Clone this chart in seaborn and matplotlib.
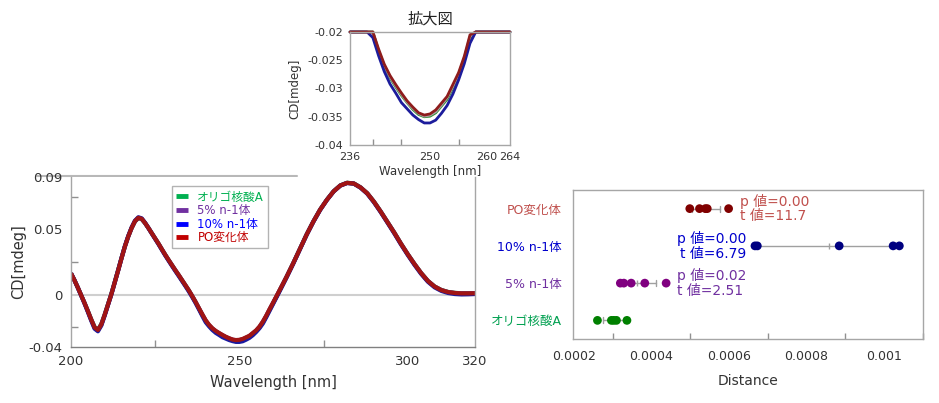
import numpy as np
import pandas as pd
import matplotlib
matplotlib.use("Agg")
import matplotlib.pyplot as plt
from matplotlib.lines import Line2D
from matplotlib.ticker import FixedLocator, FixedFormatter
import seaborn as sns

# ---------------- data ----------------
wavelength = list(range(200, 264)) + list(range(264, 321, 2))

cd_oligo = [
    0.0163, 0.0112, 0.0056, -0.0003, -0.0062, -0.0124, -0.0188, -0.0247, -0.0267, -0.0225,
    -0.0152, -0.0072, 0.0008, 0.0098, 0.0188, 0.0280, 0.0369, 0.0445, 0.0509, 0.0560,
    0.0586, 0.0578, 0.0547, 0.0510, 0.0470, 0.0430, 0.0390, 0.0347, 0.0305, 0.0265,
    0.0226, 0.0187, 0.0149, 0.0110, 0.0071, 0.0032, -0.0011, -0.0057, -0.0105, -0.0153,
    -0.0200, -0.0234, -0.0261, -0.0281, -0.0297, -0.0312, -0.0325, -0.0337, -0.0346, -0.0350,
    -0.0349, -0.0343, -0.0331, -0.0319, -0.0299, -0.0278, -0.0249, -0.0210, -0.0165, -0.0115,
    -0.0066, -0.0016, 0.0034, 0.0084,
    0.0135, 0.0241, 0.0351, 0.0461, 0.0561, 0.0651, 0.0726, 0.0791, 0.0836, 0.0856,
    0.0851, 0.0821, 0.0776, 0.0711, 0.0636, 0.0556, 0.0476, 0.0391, 0.0311, 0.0236,
    0.0166, 0.0106, 0.0063, 0.0036, 0.0021, 0.0014, 0.0011, 0.0011, 0.0012]

cd_n1_5 = [
    0.0163, 0.0112, 0.0056, -0.0004, -0.0063, -0.0126, -0.0191, -0.0251, -0.0271, -0.0229,
    -0.0156, -0.0075, 0.0005, 0.0095, 0.0185, 0.0278, 0.0368, 0.0445, 0.0510, 0.0562,
    0.0588, 0.0580, 0.0548, 0.0510, 0.0469, 0.0429, 0.0389, 0.0346, 0.0304, 0.0264,
    0.0225, 0.0186, 0.0149, 0.0110, 0.0071, 0.0032, -0.0011, -0.0056, -0.0104, -0.0152,
    -0.0199, -0.0233, -0.0259, -0.0279, -0.0295, -0.0310, -0.0324, -0.0335, -0.0344, -0.0349,
    -0.0347, -0.0341, -0.0329, -0.0316, -0.0296, -0.0275, -0.0246, -0.0208, -0.0162, -0.0112,
    -0.0064, -0.0015, 0.0035, 0.0085,
    0.0135, 0.0240, 0.0350, 0.0460, 0.0560, 0.0650, 0.0725, 0.0790, 0.0835, 0.0855,
    0.0850, 0.0820, 0.0775, 0.0710, 0.0635, 0.0555, 0.0475, 0.0390, 0.0310, 0.0235,
    0.0165, 0.0105, 0.0062, 0.0035, 0.0020, 0.0013, 0.0010, 0.0010, 0.0011]

cd_n1_10 = [
    0.0163, 0.0112, 0.0055, -0.0005, -0.0066, -0.0131, -0.0198, -0.0260, -0.0280, -0.0236,
    -0.0160, -0.0078, 0.0003, 0.0094, 0.0186, 0.0280, 0.0370, 0.0448, 0.0514, 0.0566,
    0.0592, 0.0584, 0.0550, 0.0510, 0.0468, 0.0427, 0.0386, 0.0343, 0.0300, 0.0260,
    0.0220, 0.0181, 0.0143, 0.0104, 0.0065, 0.0025, -0.0018, -0.0063, -0.0112, -0.0162,
    -0.0210, -0.0242, -0.0270, -0.0292, -0.0308, -0.0325, -0.0336, -0.0347, -0.0355, -0.0361,
    -0.0361, -0.0356, -0.0344, -0.0330, -0.0310, -0.0285, -0.0256, -0.0220, -0.0172, -0.0122,
    -0.0072, -0.0022, 0.0028, 0.0079,
    0.0130, 0.0236, 0.0347, 0.0458, 0.0558, 0.0648, 0.0724, 0.0789, 0.0834, 0.0854,
    0.0849, 0.0818, 0.0772, 0.0706, 0.0631, 0.0551, 0.0470, 0.0385, 0.0305, 0.0229,
    0.0159, 0.0099, 0.0056, 0.0029, 0.0013, 0.0005, 0.0002, 0.0003, 0.0005]

cd_po = [
    0.0163, 0.0112, 0.0056, -0.0003, -0.0062, -0.0125, -0.0190, -0.0250, -0.0270, -0.0228,
    -0.0155, -0.0075, 0.0005, 0.0095, 0.0185, 0.0278, 0.0368, 0.0445, 0.0510, 0.0562,
    0.0588, 0.0580, 0.0548, 0.0510, 0.0470, 0.0430, 0.0390, 0.0347, 0.0305, 0.0265,
    0.0226, 0.0187, 0.0150, 0.0111, 0.0072, 0.0033, -0.0010, -0.0055, -0.0103, -0.0150,
    -0.0195, -0.0230, -0.0257, -0.0277, -0.0293, -0.0308, -0.0322, -0.0333, -0.0343, -0.0347,
    -0.0345, -0.0338, -0.0326, -0.0314, -0.0293, -0.0272, -0.0243, -0.0205, -0.0160, -0.0110,
    -0.0062, -0.0013, 0.0036, 0.0085,
    0.0135, 0.0240, 0.0350, 0.0460, 0.0560, 0.0650, 0.0725, 0.0790, 0.0835, 0.0855,
    0.0850, 0.0820, 0.0775, 0.0710, 0.0635, 0.0555, 0.0475, 0.0390, 0.0310, 0.0235,
    0.0165, 0.0105, 0.0062, 0.0035, 0.0020, 0.0013, 0.0010, 0.0010, 0.0011]

samples = ["オリゴ核酸A", "5% n-1体", "10% n-1体", "PO変化体"]

dist_oligo = [0.000261, 0.000297, 0.000303, 0.000310, 0.000337]
dist_n1_5 = [0.000320, 0.000329, 0.000348, 0.000383, 0.000438]
dist_n1_10 = [0.000667, 0.000673, 0.000884, 0.001023, 0.001039]
dist_po = [0.000499, 0.000524, 0.000539, 0.000544, 0.000599]

stats = {"PO変化体": ("0.00", "11.7"), "10% n-1体": ("0.00", "6.79"), "5% n-1体": ("0.02", "2.51")}

dist_order = ["PO変化体", "10% n-1体", "5% n-1体", "オリゴ核酸A"]

main_xticks = [200, 250, 300, 320]
main_yticks = [0.09, 0.05, 0, -0.04]
inset_xticks = [236, 250, 260, 264]
inset_yticks = [-0.02, -0.025, -0.03, -0.035, -0.04]
dist_xticks = [0.0002, 0.0004, 0.0006, 0.0008, 0.001]

# ---------------- style ----------------
line_colors = ["#1F8A2E", "#7030A0", "#1A1AA0", "#A01414"]
legend_colors = ["#00B050", "#7030A0", "#0000FF", "#C00000"]
inset_colors = ["#2E8B2E", "#A9A3A9", "#1C1C9C", "#8E1C1C"]
text_colors = {"PO変化体": "#C0504D", "10% n-1体": "#0000CC",
               "5% n-1体": "#7030A0", "オリゴ核酸A": "#00A050"}
dot_colors = {"PO変化体": "#800000", "10% n-1体": "#000080",
              "5% n-1体": "#800080", "オリゴ核酸A": "#008000"}
spine_c = "#A6A6A6"
txt_c = "#333333"

sns.set_theme(style="white")
plt.rcParams["font.family"] = ["DejaVu Sans", "Noto Sans CJK JP"]
plt.rcParams["axes.unicode_minus"] = False

W, H = 939, 403
fig = plt.figure(figsize=(W / 100, H / 100), dpi=100)


def box(l, t, r, b):
    return [l / W, 1 - b / H, (r - l) / W, (b - t) / H]


df = pd.DataFrame({
    "wl": wavelength * 4,
    "cd": cd_oligo + cd_n1_5 + cd_n1_10 + cd_po,
    "sample": sum([[s] * len(wavelength) for s in samples], []),
})

# ---------------- main spectrum ----------------
ax = fig.add_axes(box(71, 177, 475, 347))
ax.axhline(0, color="#CFCFCF", lw=1.5, zorder=0)
sns.lineplot(data=df, x="wl", y="cd", hue="sample", hue_order=samples,
             palette=line_colors, estimator=None, sort=False, lw=3,
             solid_joinstyle="round", solid_capstyle="butt",
             legend=False, ax=ax)
ax.set_xlim(200, 320)
ax.set_ylim(-0.04, 0.09)
ax.xaxis.set_major_locator(FixedLocator(main_xticks))
ax.xaxis.set_major_formatter(FixedFormatter([str(v) for v in main_xticks]))
ax.yaxis.set_major_locator(FixedLocator(main_yticks))
ax.yaxis.set_major_formatter(FixedFormatter(["0.09", "0.05", "0", "-0.04"]))
ax.xaxis.set_minor_locator(FixedLocator([225, 250, 275, 300]))
ax.yaxis.set_minor_locator(FixedLocator([0.075, 0.05, 0.025, 0, -0.025]))
ax.tick_params(which="major", length=0, labelsize=9.5, colors=txt_c, pad=6)
ax.tick_params(which="minor", direction="in", length=5, color="#909090",
               bottom=True, left=True)
ax.set_xlabel("Wavelength [nm]", fontsize=10.5, color=txt_c, labelpad=5)
ax.set_ylabel("CD[mdeg]", fontsize=10.5, color=txt_c, labelpad=2)
for s in ["left", "right", "bottom"]:
    ax.spines[s].set_color(spine_c)
    ax.spines[s].set_linewidth(1)
ax.spines["bottom"].set_color("#808080")
ax.spines["top"].set_visible(False)
fig.add_artist(Line2D([37 / W, 297 / W], [1 - 176 / H] * 2,
                      color="#B8B8B8", lw=1.5, zorder=0))

handles = [Line2D([], [], color=c, lw=3.5, solid_capstyle="butt") for c in legend_colors]
leg = ax.legend(handles, samples, loc="upper left", bbox_to_anchor=(0.25, 0.945),
                borderaxespad=0, fontsize=8.5, handlelength=1.0,
                handletextpad=0.8, labelspacing=0.05, borderpad=0.35,
                frameon=True, fancybox=False, edgecolor="#A0A0A0")
leg.get_frame().set_linewidth(1)
for t, c in zip(leg.get_texts(), legend_colors):
    t.set_color(c)

# ---------------- inset ----------------
axi = fig.add_axes(box(350, 32, 510, 145))
df_in = df[(df["wl"] >= 236) & (df["wl"] <= 264)].copy()
df_in["cd"] = df_in["cd"].clip(upper=-0.02)
sns.lineplot(data=df_in, x="wl", y="cd", hue="sample", hue_order=samples,
             palette=inset_colors, estimator=None, sort=False, lw=2,
             solid_joinstyle="round", legend=False, ax=axi)
for ln in axi.lines:
    ln.set_clip_on(False)
axi.set_xlim(236, 264)
axi.set_ylim(-0.04, -0.02)
axi.xaxis.set_major_locator(FixedLocator(inset_xticks))
axi.xaxis.set_major_formatter(FixedFormatter([str(v) for v in inset_xticks]))
axi.yaxis.set_major_locator(FixedLocator(inset_yticks))
axi.yaxis.set_major_formatter(FixedFormatter(["-0.02", "-0.025", "-0.03", "-0.035", "-0.04"]))
axi.xaxis.set_minor_locator(FixedLocator([240, 245, 250, 255, 260]))
axi.yaxis.set_minor_locator(FixedLocator([-0.025, -0.03, -0.035]))
axi.tick_params(which="major", length=0, labelsize=8, colors=txt_c, pad=5)
axi.tick_params(which="minor", direction="in", length=4, color="#909090",
                bottom=True, left=True)
axi.set_xlabel("Wavelength [nm]", fontsize=8.5, color=txt_c, labelpad=2)
axi.set_ylabel("CD[mdeg]", fontsize=8.5, color=txt_c, labelpad=4)
axi.set_title("拡大図", fontsize=11, color="#222222", pad=6)
for s in axi.spines.values():
    s.set_color(spine_c)
    s.set_linewidth(1)

# ---------------- distance dot plot ----------------
axr = fig.add_axes(box(573, 190, 923, 339))
dfp = pd.DataFrame({
    "group": ["オリゴ核酸A"] * len(dist_oligo) + ["5% n-1体"] * len(dist_n1_5)
    + ["10% n-1体"] * len(dist_n1_10) + ["PO変化体"] * len(dist_po),
    "dist": dist_oligo + dist_n1_5 + dist_n1_10 + dist_po,
})
sns.pointplot(data=dfp, x="dist", y="group", order=dist_order, errorbar="sd",
              capsize=0.16, color="#A0A0A0", markers="|", linestyles="none",
              err_kws={"linewidth": 1}, markersize=5, markeredgewidth=1,
              ax=axr)
sns.stripplot(data=dfp, x="dist", y="group", order=dist_order, hue="group",
              hue_order=dist_order, palette=dot_colors, jitter=False, size=6.3,
              linewidth=0, legend=False, zorder=3, ax=axr)
axr.set_xlim(0.000198, 0.0011)
axr.set_ylim(3.5, -0.5)
axr.xaxis.set_major_locator(FixedLocator(dist_xticks))
axr.xaxis.set_major_formatter(FixedFormatter(["0.0002", "0.0004", "0.0006", "0.0008", "0.001"]))
axr.xaxis.set_minor_locator(FixedLocator(np.arange(0.0002, 0.00111, 0.0001)))
axr.tick_params(axis="x", which="major", length=0, labelsize=9, colors=txt_c, pad=8)
axr.tick_params(axis="x", which="minor", direction="in", length=4, color="#909090", bottom=True)
axr.tick_params(axis="y", length=0, labelsize=9, pad=8)
for lbl in axr.get_yticklabels():
    lbl.set_color(text_colors[lbl.get_text()])
axr.set_xlabel("Distance", fontsize=10, color=txt_c, labelpad=8)
axr.set_ylabel("")
for s in axr.spines.values():
    s.set_color(spine_c)
    s.set_linewidth(1)

groups = {"PO変化体": dist_po, "10% n-1体": dist_n1_10, "5% n-1体": dist_n1_5}
for g, (p, t) in stats.items():
    yi = dist_order.index(g)
    vals = groups[g]
    label = f"p 値={p}\nt 値={t}"
    if g == "10% n-1体":
        axr.annotate(label, xy=(min(vals), yi), xytext=(-6, 0),
                     textcoords="offset points", ha="right", va="center",
                     fontsize=10, color=text_colors[g], linespacing=1.05)
    else:
        axr.annotate(label, xy=(max(vals), yi), xytext=(8, 0),
                     textcoords="offset points", ha="left", va="center",
                     fontsize=10, color=text_colors[g], linespacing=1.05)

fig.savefig("out.png", dpi=100)
